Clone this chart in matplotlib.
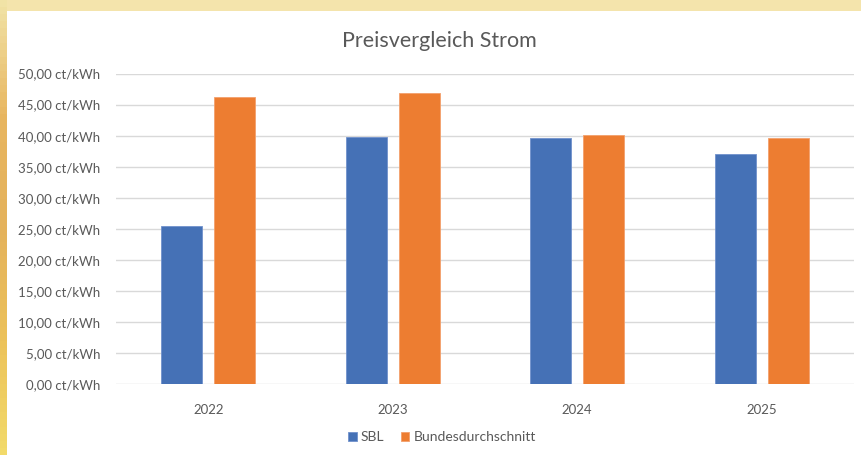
import matplotlib
matplotlib.use("Agg")
import matplotlib.pyplot as plt
import numpy as np
from matplotlib.patches import Rectangle
from matplotlib.ticker import FuncFormatter, MultipleLocator

years = ["2022", "2023", "2024", "2025"]
sbl = [25.4, 39.75, 39.7, 37.0]
bund = [46.2, 46.9, 40.1, 39.65]
series_names = ["SBL", "Bundesdurchschnitt"]

W, H = 862, 455
fig = plt.figure(figsize=(W / 100, H / 100), dpi=100)
fig.patch.set_facecolor("#f4e4ac")
plt.rcParams['font.family'] = ['Lato', 'DejaVu Sans']

# background decoration: left golden strip (gradient) and white chart panel
bg = fig.add_axes([0, 0, 7 / W, 1])
bg.set_zorder(-10)
grad = np.linspace(0, 1, 64).reshape(-1, 1)
from matplotlib.colors import LinearSegmentedColormap
cm = LinearSegmentedColormap.from_list("g", ["#f1e3a6", "#e8b660", "#e4b25c", "#ecc25a", "#f2da6a"])
bg.imshow(grad, aspect="auto", cmap=cm, extent=[0, 1, 0, 1], origin="upper")
bg.axis("off")
fig.patches.append(Rectangle((7 / W, 0), 1 - 7 / W, 1 - 11 / H, transform=fig.transFigure,
                             facecolor="white", edgecolor="none", zorder=-9))

left, right = 116 / W, 854 / W
top, bottom = 1 - 73.5 / H, 1 - 384.3 / H
ax = fig.add_axes([left, bottom, right - left, top - bottom])
ax.set_facecolor("none")
ax.set_zorder(1)

x = np.arange(len(years))
bw = 0.224
off = 0.1436
ax.bar(x - off, sbl, bw, color="#4571B6", edgecolor="#7091cc", linewidth=0.6,
       label=series_names[0], zorder=3)
ax.bar(x + off, bund, bw, color="#ED7D31", edgecolor="#f3a06c", linewidth=0.6,
       label=series_names[1], zorder=3)

ax.set_xlim(-0.5, len(years) - 0.5)
ax.set_ylim(0, 50)
ax.yaxis.set_major_locator(MultipleLocator(5))
ax.yaxis.set_major_formatter(FuncFormatter(lambda v, p: f"{v:.2f}".replace(".", ",") + " ct/kWh"))
ax.grid(axis="y", color="#d9d9d9", linewidth=1.0, zorder=0)
ax.set_axisbelow(True)
for s in ax.spines.values():
    s.set_visible(False)
ax.tick_params(axis="both", length=0, colors="#595959", labelsize=9.5)
ax.tick_params(axis="y", pad=11.5)
ax.tick_params(axis="x", pad=14)
ax.set_xticks(x)
ax.set_xticklabels(years)

fig.text(439 / W, 1 - 41 / H, "Preisvergleich Strom", ha="center", va="center",
         fontsize=15.5, color="#595959")

leg = fig.legend(loc="center", bbox_to_anchor=(442 / W, 1 - 437 / H), ncol=2, frameon=False,
                 fontsize=10, handlelength=0.6, handleheight=0.6, handletextpad=0.3,
                 columnspacing=1.2, labelcolor="#595959")

fig.savefig("out.png", dpi=100, facecolor=fig.get_facecolor())
